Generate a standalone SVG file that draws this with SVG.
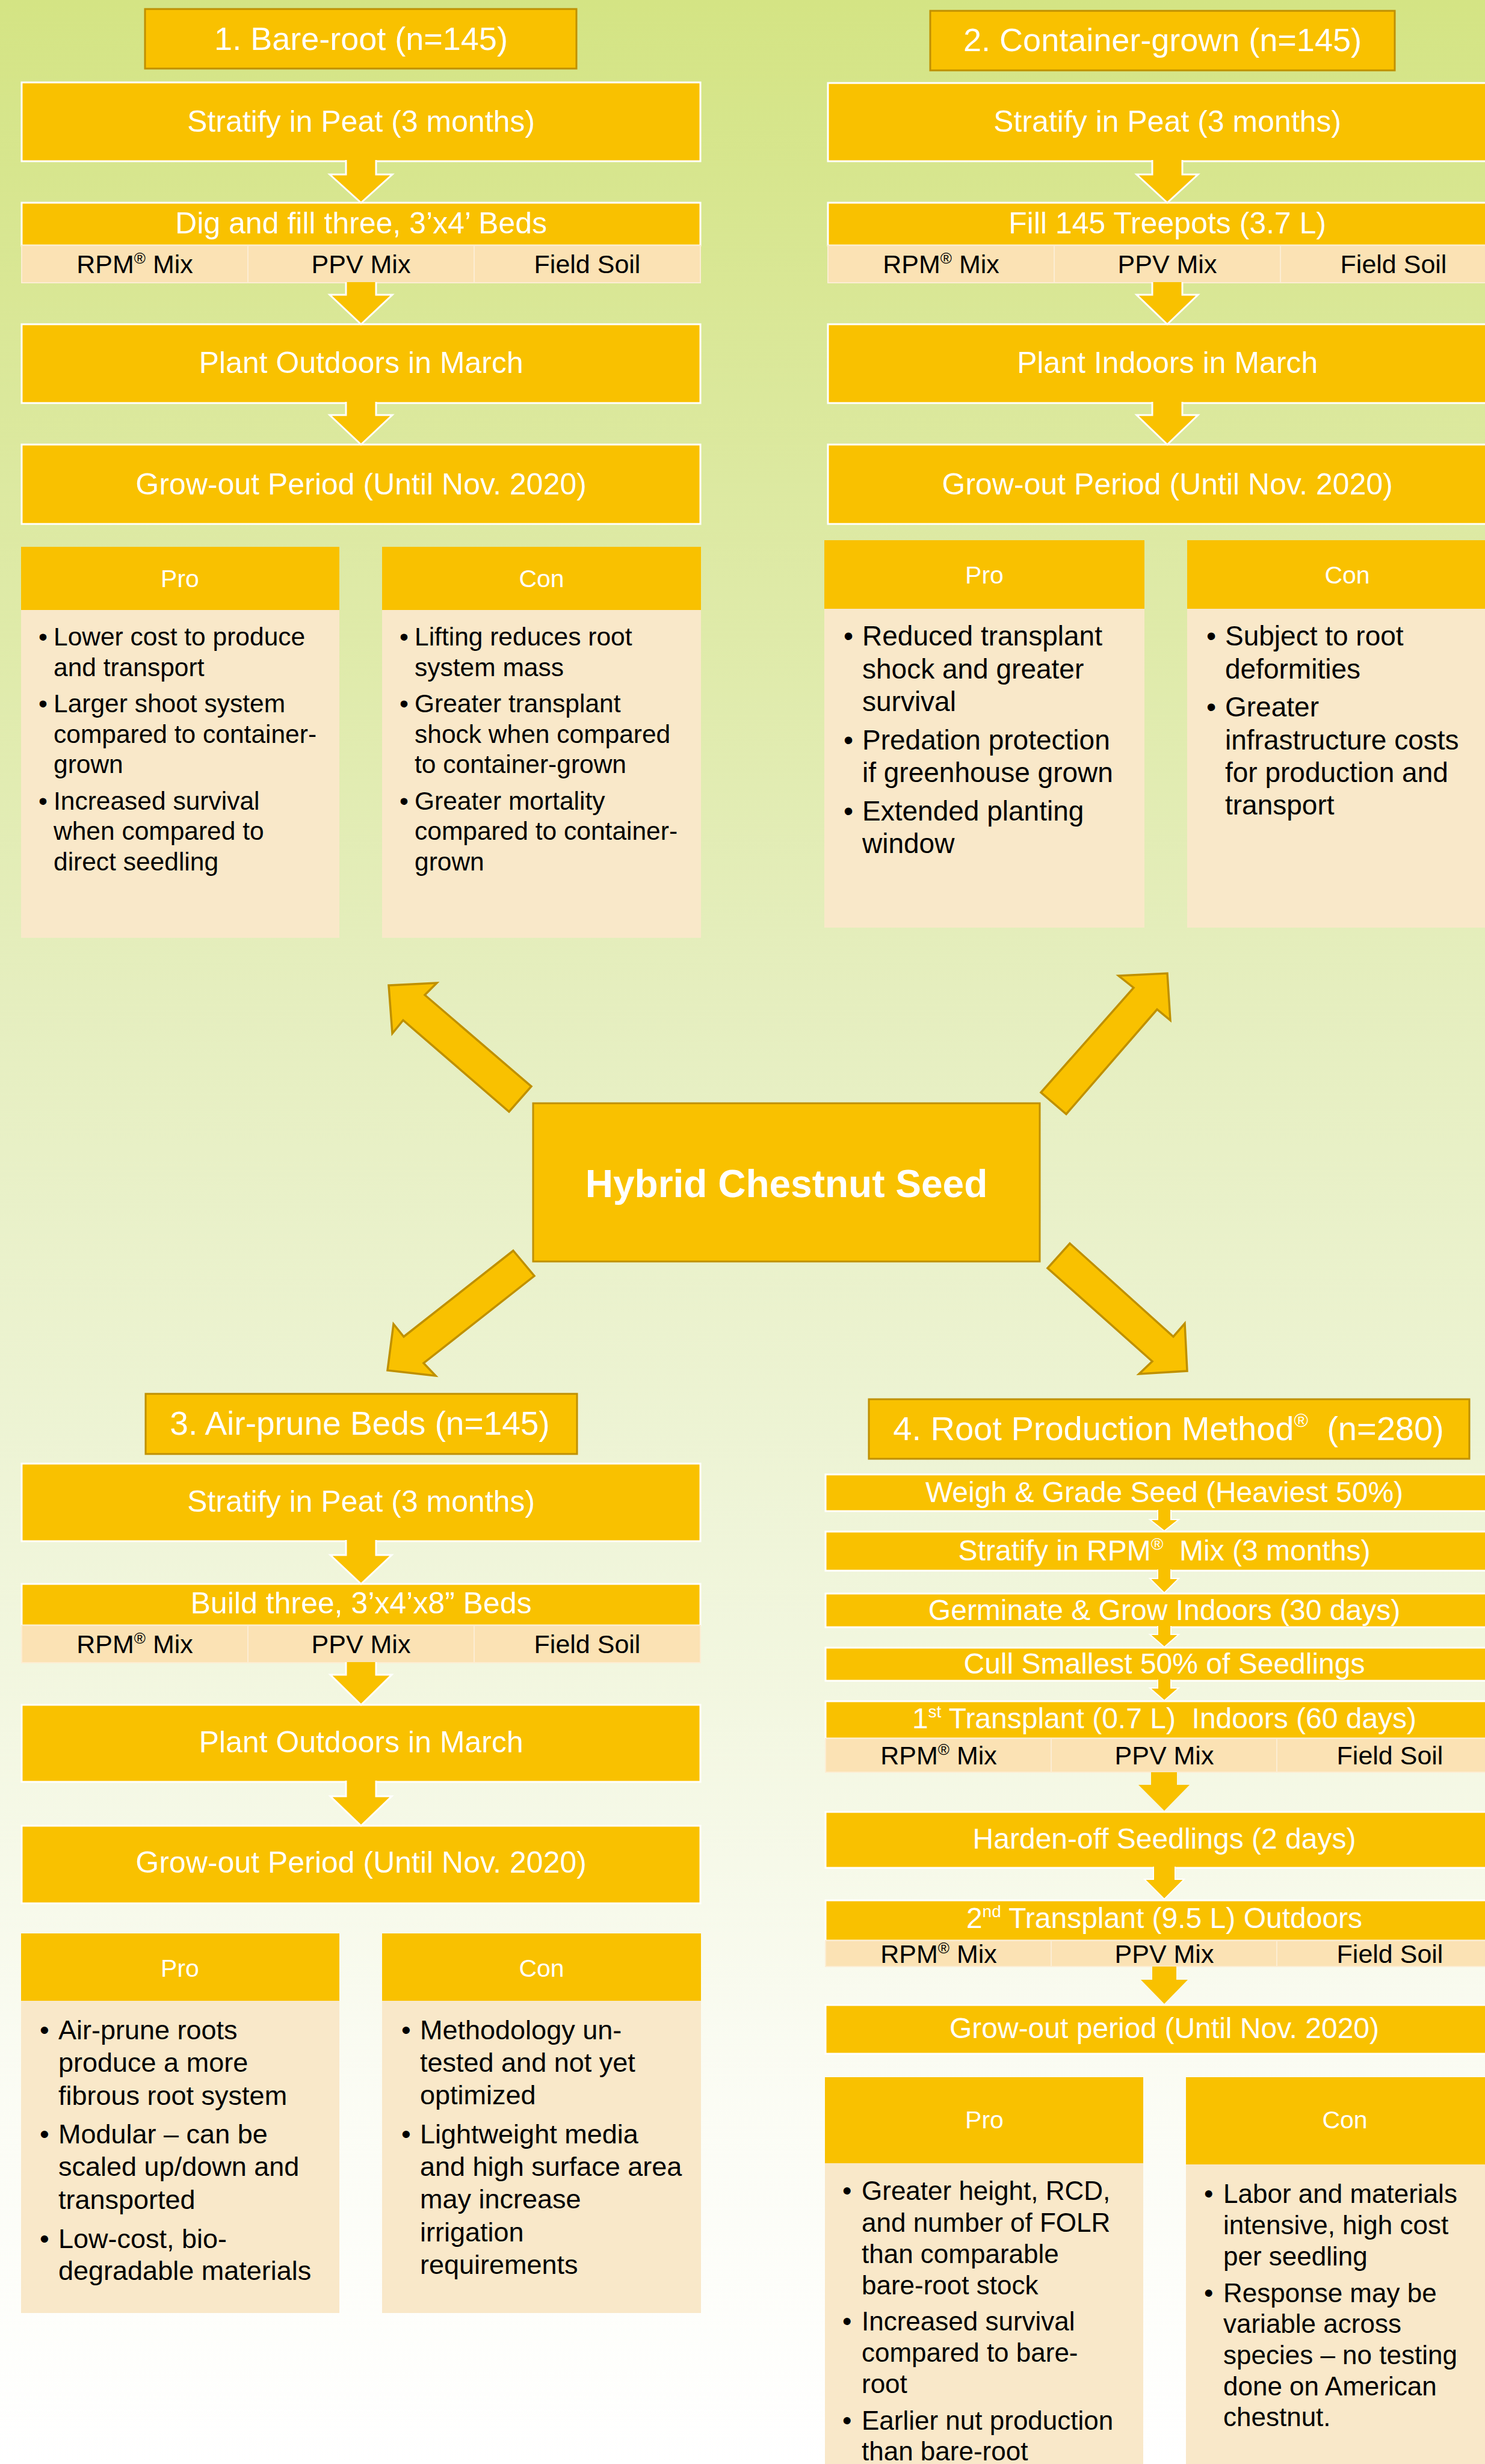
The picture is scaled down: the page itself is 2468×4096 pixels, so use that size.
<svg xmlns="http://www.w3.org/2000/svg" width="2468" height="4096" viewBox="0 0 2468 4096">
<defs>
<linearGradient id="bg" x1="0" y1="0" x2="0" y2="1">
<stop offset="0" stop-color="#D4E484"/>
<stop offset="0.4" stop-color="#E5EEBE"/>
<stop offset="0.6" stop-color="#EEF4D6"/>
<stop offset="0.85" stop-color="#FBFCF4"/>
<stop offset="1" stop-color="#FFFFFF"/>
</linearGradient>
<style>
text{font-family:"Liberation Sans",Arial,sans-serif}
.w{fill:#fff}
.k{fill:#000}
.m{text-anchor:middle}
.box{fill:#F9C100;stroke:#fff;stroke-width:3}
.tbox{fill:#F9C100;stroke:#BF9000;stroke-width:3}
.cell{fill:#FBE2B4;stroke:#FCEDD3;stroke-width:2}
.hdr{fill:#F9C100}
.body{fill:#F9E8C9}
.arr{fill:#F9C100;stroke:#fff;stroke-width:3}
.arr2{fill:#F9C100;stroke:#fff;stroke-width:2}
.arrp{fill:#F9C100}
.big{fill:#F9C100;stroke:#BF9000;stroke-width:3.5;stroke-linejoin:miter}
.f1{font-size:42.5px}
.f2{font-size:46px}
.f3{font-size:45px}
.f4{font-size:44px}
.ph{font-size:41px}
.pb{font-size:50px}
.p4{font-size:48px}
.sc{font-size:43px}
.tt{font-size:54px}
</style>
</defs>
<rect x="0" y="0" width="2468" height="4096" fill="url(#bg)"/>

<!-- Section 1 -->
<g id="s1-title"><rect class="tbox" x="241" y="15" width="717" height="99"/><text class="w m tt" x="600" y="83">1. Bare-root (n=145)</text></g>
<g id="s1-stratify"><rect class="box" x="36" y="137" width="1128" height="131"/><text class="w m pb" x="600" y="219">Stratify in Peat (3 months)</text></g>
<g id="s1-dig"><rect class="box" x="36" y="337" width="1128" height="71"/><text class="w m pb" x="600" y="388">Dig and fill three, 3’x4’ Beds</text>
<rect class="cell" x="36" y="408" width="376" height="62"/><rect class="cell" x="412" y="408" width="376" height="62"/><rect class="cell" x="788" y="408" width="376" height="62"/>
<text class="k m sc" x="224" y="454">RPM<tspan font-size="26" dy="-16">®</tspan><tspan dy="16"> Mix</tspan></text><text class="k m sc" x="600" y="454">PPV Mix</text><text class="k m sc" x="976" y="454">Field Soil</text></g>
<g id="s1-plant"><rect class="box" x="36" y="539" width="1128" height="131"/><text class="w m pb" x="600" y="620">Plant Outdoors in March</text></g>
<g id="s1-grow"><rect class="box" x="36" y="739" width="1128" height="132"/><text class="w m pb" x="600" y="822">Grow-out Period (Until Nov. 2020)</text></g>
<g id="s1-pro"><rect class="hdr" x="35" y="909" width="529" height="105"/><rect class="body" x="35" y="1014" width="529" height="545"/><text class="w m ph" x="299" y="976">Pro</text>
<text class="k f1"><tspan x="64" y="1073">•</tspan><tspan x="89" y="1073">Lower cost to produce</tspan><tspan x="89" y="1124">and transport</tspan><tspan x="64" y="1184">•</tspan><tspan x="89" y="1184">Larger shoot system</tspan><tspan x="89" y="1235">compared to container-</tspan><tspan x="89" y="1285">grown</tspan><tspan x="64" y="1346">•</tspan><tspan x="89" y="1346">Increased survival</tspan><tspan x="89" y="1396">when compared to</tspan><tspan x="89" y="1447">direct seedling</tspan></text></g>
<g id="s1-con"><rect class="hdr" x="635" y="909" width="530" height="105"/><rect class="body" x="635" y="1014" width="530" height="545"/><text class="w m ph" x="900" y="976">Con</text>
<text class="k f1"><tspan x="664" y="1073">•</tspan><tspan x="689" y="1073">Lifting reduces root</tspan><tspan x="689" y="1124">system mass</tspan><tspan x="664" y="1184">•</tspan><tspan x="689" y="1184">Greater transplant</tspan><tspan x="689" y="1235">shock when compared</tspan><tspan x="689" y="1285">to container-grown</tspan><tspan x="664" y="1346">•</tspan><tspan x="689" y="1346">Greater mortality</tspan><tspan x="689" y="1396">compared to container-</tspan><tspan x="689" y="1447">grown</tspan></text></g>

<!-- Section 2 -->
<g id="s2-title"><rect class="tbox" x="1546" y="18" width="772" height="99"/><text class="w m tt" x="1932" y="85">2. Container-grown (n=145)</text></g>
<g id="s2-stratify"><rect class="box" x="1376" y="138" width="1130" height="130"/><text class="w m pb" x="1940" y="219">Stratify in Peat (3 months)</text></g>
<g id="s2-fill"><rect class="box" x="1376" y="337" width="1130" height="71"/><text class="w m pb" x="1940" y="388">Fill 145 Treepots (3.7 L)</text>
<rect class="cell" x="1376" y="408" width="376" height="62"/><rect class="cell" x="1752" y="408" width="376" height="62"/><rect class="cell" x="2128" y="408" width="376" height="62"/>
<text class="k m sc" x="1564" y="454">RPM<tspan font-size="26" dy="-16">®</tspan><tspan dy="16"> Mix</tspan></text><text class="k m sc" x="1940" y="454">PPV Mix</text><text class="k m sc" x="2316" y="454">Field Soil</text></g>
<g id="s2-plant"><rect class="box" x="1376" y="539" width="1130" height="131"/><text class="w m pb" x="1940" y="620">Plant Indoors in March</text></g>
<g id="s2-grow"><rect class="box" x="1376" y="739" width="1130" height="132"/><text class="w m pb" x="1940" y="822">Grow-out Period (Until Nov. 2020)</text></g>
<g id="s2-pro"><rect class="hdr" x="1370" y="898" width="532" height="114"/><rect class="body" x="1370" y="1012" width="532" height="530"/><text class="w m ph" x="1636" y="970">Pro</text>
<text class="k f2"><tspan x="1402" y="1073">•</tspan><tspan x="1433" y="1073">Reduced transplant</tspan><tspan x="1433" y="1128">shock and greater</tspan><tspan x="1433" y="1182">survival</tspan><tspan x="1402" y="1246">•</tspan><tspan x="1433" y="1246">Predation protection</tspan><tspan x="1433" y="1300">if greenhouse grown</tspan><tspan x="1402" y="1364">•</tspan><tspan x="1433" y="1364">Extended planting</tspan><tspan x="1433" y="1418">window</tspan></text></g>
<g id="s2-con"><rect class="hdr" x="1973" y="898" width="532" height="114"/><rect class="body" x="1973" y="1012" width="532" height="530"/><text class="w m ph" x="2239" y="970">Con</text>
<text class="k f2"><tspan x="2005" y="1073">•</tspan><tspan x="2036" y="1073">Subject to root</tspan><tspan x="2036" y="1128">deformities</tspan><tspan x="2005" y="1191">•</tspan><tspan x="2036" y="1191">Greater</tspan><tspan x="2036" y="1246">infrastructure costs</tspan><tspan x="2036" y="1300">for production and</tspan><tspan x="2036" y="1354">transport</tspan></text></g>

<!-- Center -->
<g id="seed"><rect class="tbox" x="886" y="1834" width="842" height="263"/><text class="w m" x="1307" y="1990" font-size="64" font-weight="bold">Hybrid Chestnut Seed</text></g>

<!-- Section 3 -->
<g id="s3-title"><rect class="tbox" x="242" y="2317" width="717" height="100"/><text class="w m" font-size="55" x="598" y="2385">3. Air-prune Beds (n=145)</text></g>
<g id="s3-stratify"><rect class="box" x="36" y="2433" width="1128" height="129"/><text class="w m pb" x="600" y="2513">Stratify in Peat (3 months)</text></g>
<g id="s3-build"><rect class="box" x="36" y="2633" width="1128" height="69"/><text class="w m pb" x="600" y="2682">Build three, 3’x4’x8” Beds</text>
<rect class="cell" x="36" y="2702" width="376" height="62"/><rect class="cell" x="412" y="2702" width="376" height="62"/><rect class="cell" x="788" y="2702" width="376" height="62"/>
<text class="k m sc" x="224" y="2748">RPM<tspan font-size="26" dy="-16">®</tspan><tspan dy="16"> Mix</tspan></text><text class="k m sc" x="600" y="2748">PPV Mix</text><text class="k m sc" x="976" y="2748">Field Soil</text></g>
<g id="s3-plant"><rect class="box" x="36" y="2834" width="1128" height="128"/><text class="w m pb" x="600" y="2913">Plant Outdoors in March</text></g>
<g id="s3-grow"><rect class="box" x="36" y="3035" width="1128" height="129"/><text class="w m pb" x="600" y="3113">Grow-out Period (Until Nov. 2020)</text></g>
<g id="s3-pro"><rect class="hdr" x="35" y="3214" width="529" height="112"/><rect class="body" x="35" y="3326" width="529" height="519"/><text class="w m ph" x="299" y="3286">Pro</text>
<text class="k f3"><tspan x="66" y="3390">•</tspan><tspan x="97" y="3390">Air-prune roots</tspan><tspan x="97" y="3444">produce a more</tspan><tspan x="97" y="3499">fibrous root system</tspan><tspan x="66" y="3563">•</tspan><tspan x="97" y="3563">Modular – can be</tspan><tspan x="97" y="3617">scaled up/down and</tspan><tspan x="97" y="3672">transported</tspan><tspan x="66" y="3737">•</tspan><tspan x="97" y="3737">Low-cost, bio-</tspan><tspan x="97" y="3790">degradable materials</tspan></text></g>
<g id="s3-con"><rect class="hdr" x="635" y="3214" width="530" height="112"/><rect class="body" x="635" y="3326" width="530" height="519"/><text class="w m ph" x="900" y="3286">Con</text>
<text class="k f3"><tspan x="667" y="3390">•</tspan><tspan x="698" y="3390">Methodology un-</tspan><tspan x="698" y="3444">tested and not yet</tspan><tspan x="698" y="3498">optimized</tspan><tspan x="667" y="3563">•</tspan><tspan x="698" y="3563">Lightweight media</tspan><tspan x="698" y="3617">and high surface area</tspan><tspan x="698" y="3671">may increase</tspan><tspan x="698" y="3726">irrigation</tspan><tspan x="698" y="3780">requirements</tspan></text></g>

<!-- Section 4 -->
<g id="s4-title"><rect class="tbox" x="1444" y="2326" width="998" height="99"/><text class="w m" font-size="56" x="1942" y="2394" xml:space="preserve">4. Root Production Method<tspan font-size="32" dy="-22">®</tspan><tspan dy="22">  (n=280)</tspan></text></g>
<g id="s4-weigh"><rect class="box" x="1372" y="2451" width="1125" height="61"/><text class="w m p4" x="1935" y="2497">Weigh &amp; Grade Seed (Heaviest 50%)</text></g>
<g id="s4-stratify"><rect class="box" x="1372" y="2546" width="1125" height="65"/><text class="w m p4" x="1935" y="2594" xml:space="preserve">Stratify in RPM<tspan font-size="28" dy="-18">®</tspan><tspan dy="18">  Mix (3 months)</tspan></text></g>
<g id="s4-germ"><rect class="box" x="1372" y="2649" width="1125" height="56"/><text class="w m p4" x="1935" y="2693">Germinate &amp; Grow Indoors (30 days)</text></g>
<g id="s4-cull"><rect class="box" x="1372" y="2739" width="1125" height="55"/><text class="w m p4" x="1935" y="2782">Cull Smallest 50% of Seedlings</text></g>
<g id="s4-t1"><rect class="box" x="1372" y="2828" width="1125" height="62"/><text class="w m p4" x="1935" y="2873" xml:space="preserve">1<tspan font-size="28" dy="-18">st</tspan><tspan dy="18"> Transplant (0.7 L)  Indoors (60 days)</tspan></text>
<rect class="cell" x="1372" y="2890" width="375" height="56"/><rect class="cell" x="1747" y="2890" width="375" height="56"/><rect class="cell" x="2122" y="2890" width="375" height="56"/>
<text class="k m sc" x="1560" y="2933">RPM<tspan font-size="26" dy="-16">®</tspan><tspan dy="16"> Mix</tspan></text><text class="k m sc" x="1935" y="2933">PPV Mix</text><text class="k m sc" x="2310" y="2933">Field Soil</text></g>
<g id="s4-harden"><rect class="box" x="1372" y="3012" width="1125" height="93"/><text class="w m p4" x="1935" y="3073">Harden-off Seedlings (2 days)</text></g>
<g id="s4-t2"><rect class="box" x="1372" y="3159" width="1125" height="67"/><text class="w m p4" x="1935" y="3205">2<tspan font-size="28" dy="-18">nd</tspan><tspan dy="18"> Transplant (9.5 L) Outdoors</tspan></text>
<rect class="cell" x="1372" y="3226" width="375" height="43"/><rect class="cell" x="1747" y="3226" width="375" height="43"/><rect class="cell" x="2122" y="3226" width="375" height="43"/>
<text class="k m sc" x="1560" y="3263">RPM<tspan font-size="26" dy="-16">®</tspan><tspan dy="16"> Mix</tspan></text><text class="k m sc" x="1935" y="3263">PPV Mix</text><text class="k m sc" x="2310" y="3263">Field Soil</text></g>
<g id="s4-grow"><rect class="box" x="1372" y="3333" width="1125" height="81"/><text class="w m p4" x="1935" y="3388">Grow-out period (Until Nov. 2020)</text></g>
<g id="s4-pro"><rect class="hdr" x="1371" y="3453" width="529" height="143"/><rect class="body" x="1371" y="3596" width="529" height="510"/><text class="w m ph" x="1636" y="3538">Pro</text>
<text class="k f4"><tspan x="1400" y="3657">•</tspan><tspan x="1432" y="3657">Greater height, RCD,</tspan><tspan x="1432" y="3710">and number of FOLR</tspan><tspan x="1432" y="3762">than comparable</tspan><tspan x="1432" y="3814">bare-root stock</tspan><tspan x="1400" y="3874">•</tspan><tspan x="1432" y="3874">Increased survival</tspan><tspan x="1432" y="3926">compared to bare-</tspan><tspan x="1432" y="3978">root</tspan><tspan x="1400" y="4039">•</tspan><tspan x="1432" y="4039">Earlier nut production</tspan><tspan x="1432" y="4090">than bare-root</tspan></text></g>
<g id="s4-con"><rect class="hdr" x="1971" y="3453" width="528" height="145"/><rect class="body" x="1971" y="3598" width="528" height="508"/><text class="w m ph" x="2235" y="3538">Con</text>
<text class="k f4"><tspan x="2001" y="3662">•</tspan><tspan x="2033" y="3662">Labor and materials</tspan><tspan x="2033" y="3714">intensive, high cost</tspan><tspan x="2033" y="3766">per seedling</tspan><tspan x="2001" y="3827">•</tspan><tspan x="2033" y="3827">Response may be</tspan><tspan x="2033" y="3878">variable across</tspan><tspan x="2033" y="3930">species – no testing</tspan><tspan x="2033" y="3982">done on American</tspan><tspan x="2033" y="4033">chestnut.</tspan></text></g>

<!-- Connectors -->
<g id="connectors">
<path class="arr" d="M575 266 L575 290 L548 290 L600 337 L652 290 L625 290 L625 266"/>
<path class="arr" d="M575 469 L575 490 L548 490 L600 539 L652 490 L625 490 L625 469"/>
<path class="arr" d="M575 668 L575 690 L548 690 L600 739 L652 690 L625 690 L625 668"/>
<path class="arr" d="M1915 266 L1915 290 L1889 290 L1940 337 L1991 290 L1965 290 L1965 266"/>
<path class="arr" d="M1915 469 L1915 490 L1889 490 L1940 539 L1991 490 L1965 490 L1965 469"/>
<path class="arr" d="M1915 668 L1915 690 L1889 690 L1940 739 L1991 690 L1965 690 L1965 668"/>
<path class="arr" d="M575 2560 L575 2585 L549 2585 L600 2633 L651 2585 L625 2585 L625 2560"/>
<path class="arr" d="M575 2763 L575 2784 L549 2784 L600 2834 L651 2784 L625 2784 L625 2763"/>
<path class="arr" d="M575 2960 L575 2986 L549 2986 L600 3035 L651 2986 L625 2986 L625 2960"/>
<path class="arr2" d="M1924 2510 L1924 2526 L1911 2526 L1935 2545 L1959 2526 L1946 2526 L1946 2510"/>
<path class="arr2" d="M1924 2609 L1924 2624 L1911 2624 L1935 2648 L1959 2624 L1946 2624 L1946 2609"/>
<path class="arr2" d="M1924 2703 L1924 2717 L1911 2717 L1935 2738 L1959 2717 L1946 2717 L1946 2703"/>
<path class="arr2" d="M1924 2792 L1924 2806 L1911 2806 L1935 2827 L1959 2806 L1946 2806 L1946 2792"/>
<path class="arrp" d="M1913 2946 L1913 2967 L1892 2967 L1935 3010 L1977 2967 L1956 2967 L1956 2946 Z"/>
<path class="arr2" d="M1917 3103 L1917 3124 L1902 3124 L1935 3157 L1968 3124 L1953 3124 L1953 3103"/>
<path class="arrp" d="M1915 3269 L1915 3291 L1896 3291 L1935 3331 L1974 3291 L1955 3291 L1955 3269 Z"/>
<polygon class="big" points="646,1638 726,1634 706,1654 883,1806 846,1848 670,1696 652,1718"/>
<polygon class="big" points="1730,1816 1884,1642 1859,1622 1940,1618 1945,1696 1923,1678 1772,1852"/>
<polygon class="big" points="853,2079 888,2121 704,2266 724,2287 644,2278 654,2201 671,2222"/>
<polygon class="big" points="1778,2067 1950,2222 1969,2200 1973,2279 1893,2284 1915,2263 1741,2108"/>
</g>
</svg>
